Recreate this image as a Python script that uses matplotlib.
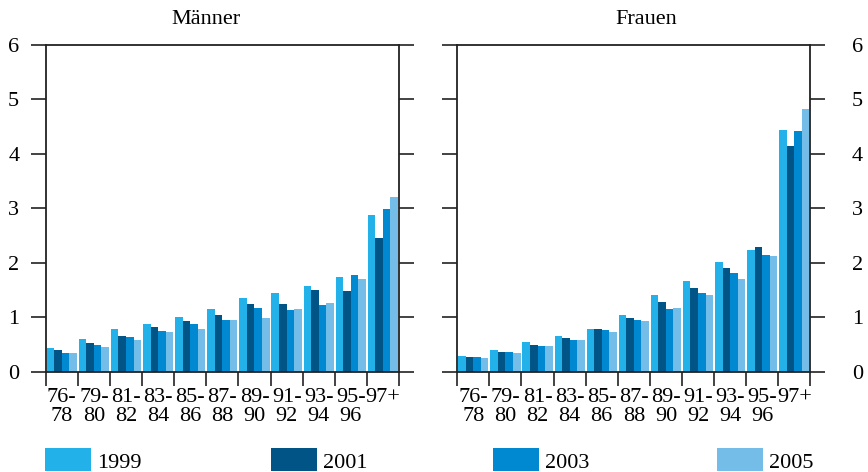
import matplotlib
matplotlib.use("Agg")
import matplotlib.pyplot as plt
from matplotlib.patches import Rectangle
import numpy as np

plt.rcParams['font.family'] = ['Liberation Serif', 'DejaVu Serif']

categories = ["76-\n78", "79-\n80", "81-\n82", "83-\n84", "85-\n86", "87-\n88",
              "89-\n90", "91-\n92", "93-\n94", "95-\n96", "97+"]
years = ["1999", "2001", "2003", "2005"]
colors = ["#22b1e8", "#005486", "#0089d0", "#74bde8"]

maenner = {
    "1999": [0.43, 0.60, 0.78, 0.87, 1.00, 1.15, 1.35, 1.44, 1.57, 1.73, 2.87],
    "2001": [0.40, 0.52, 0.65, 0.82, 0.93, 1.04, 1.24, 1.24, 1.49, 1.48, 2.46],
    "2003": [0.34, 0.49, 0.63, 0.74, 0.87, 0.95, 1.17, 1.13, 1.22, 1.77, 2.99],
    "2005": [0.34, 0.45, 0.58, 0.73, 0.78, 0.95, 0.98, 1.15, 1.26, 1.70, 3.20],
}
frauen = {
    "1999": [0.29, 0.40, 0.54, 0.65, 0.78, 1.04, 1.40, 1.66, 2.01, 2.23, 4.44],
    "2001": [0.27, 0.36, 0.49, 0.62, 0.78, 0.98, 1.27, 1.53, 1.90, 2.28, 4.15],
    "2003": [0.27, 0.36, 0.47, 0.58, 0.76, 0.95, 1.15, 1.44, 1.82, 2.15, 4.42],
    "2005": [0.25, 0.34, 0.47, 0.58, 0.73, 0.93, 1.17, 1.40, 1.71, 2.12, 4.82],
}
titles = ["Männer", "Frauen"]
yticks = [0, 1, 2, 3, 4, 5, 6]

W, H = 868, 472
fig = plt.figure(figsize=(W / 100, H / 100), dpi=100)

line_col = "#222222"
fs = 16

def make_ax(x0px, x1px, data, side):
    ax = fig.add_axes([x0px / W, (H - 371.7) / H, (x1px - x0px) / W, (371.7 - 44.7) / H])
    n = len(categories)
    x = np.arange(n)
    bw = 0.235
    for k, yr in enumerate(years):
        ax.bar(x + (k - 1.5) * bw, data[yr], width=bw, color=colors[k], linewidth=0)
    ax.set_xlim(-0.5, n - 0.5)
    ax.set_ylim(0, 6)
    for s in ax.spines.values():
        s.set_color(line_col)
        s.set_linewidth(1.3)
    # x ticks at group boundaries, labels at centers
    ax.set_xticks(np.arange(n + 1) - 0.5)
    ax.set_xticklabels([])
    ax.set_xticks(x, minor=True)
    ax.set_xticklabels(categories, minor=True, fontsize=fs, linespacing=1.05)
    ax.tick_params(axis='x', which='major', direction='out', length=10, width=1.2, color=line_col)
    ax.tick_params(axis='x', which='minor', length=0, pad=11.5)
    ax.set_yticks(yticks)
    ax.set_yticklabels([str(v) for v in yticks], fontsize=fs)
    if side == "left":
        ax.tick_params(axis='y', direction='out', length=11, width=1.2, color=line_col,
                       left=True, right=True, labelleft=True, labelright=False, pad=8)
    else:
        ax.tick_params(axis='y', direction='out', length=11, width=1.2, color=line_col,
                       left=True, right=True, labelleft=False, labelright=True, pad=19)
    return ax

ax1 = make_ax(45.7, 399.0, maenner, "left")
ax2 = make_ax(457.3, 810.3, frauen, "right")

fig.text(206 / W, 1 - 19 / H, titles[0], ha='center', va='center', fontsize=fs)
fig.text(646 / W, 1 - 19 / H, titles[1], ha='center', va='center', fontsize=fs)

# legend
lx = [45, 271, 493, 717]
for i, yr in enumerate(years):
    fig.patches.append(Rectangle((lx[i] / W, (H - 471) / H), 46 / W, 23 / H,
                                 transform=fig.transFigure, facecolor=colors[i],
                                 edgecolor='none'))
    fig.text((lx[i] + 52) / W, (H - 468) / H, yr, ha='left', va='baseline', fontsize=fs)

fig.savefig("out.png", dpi=100)
